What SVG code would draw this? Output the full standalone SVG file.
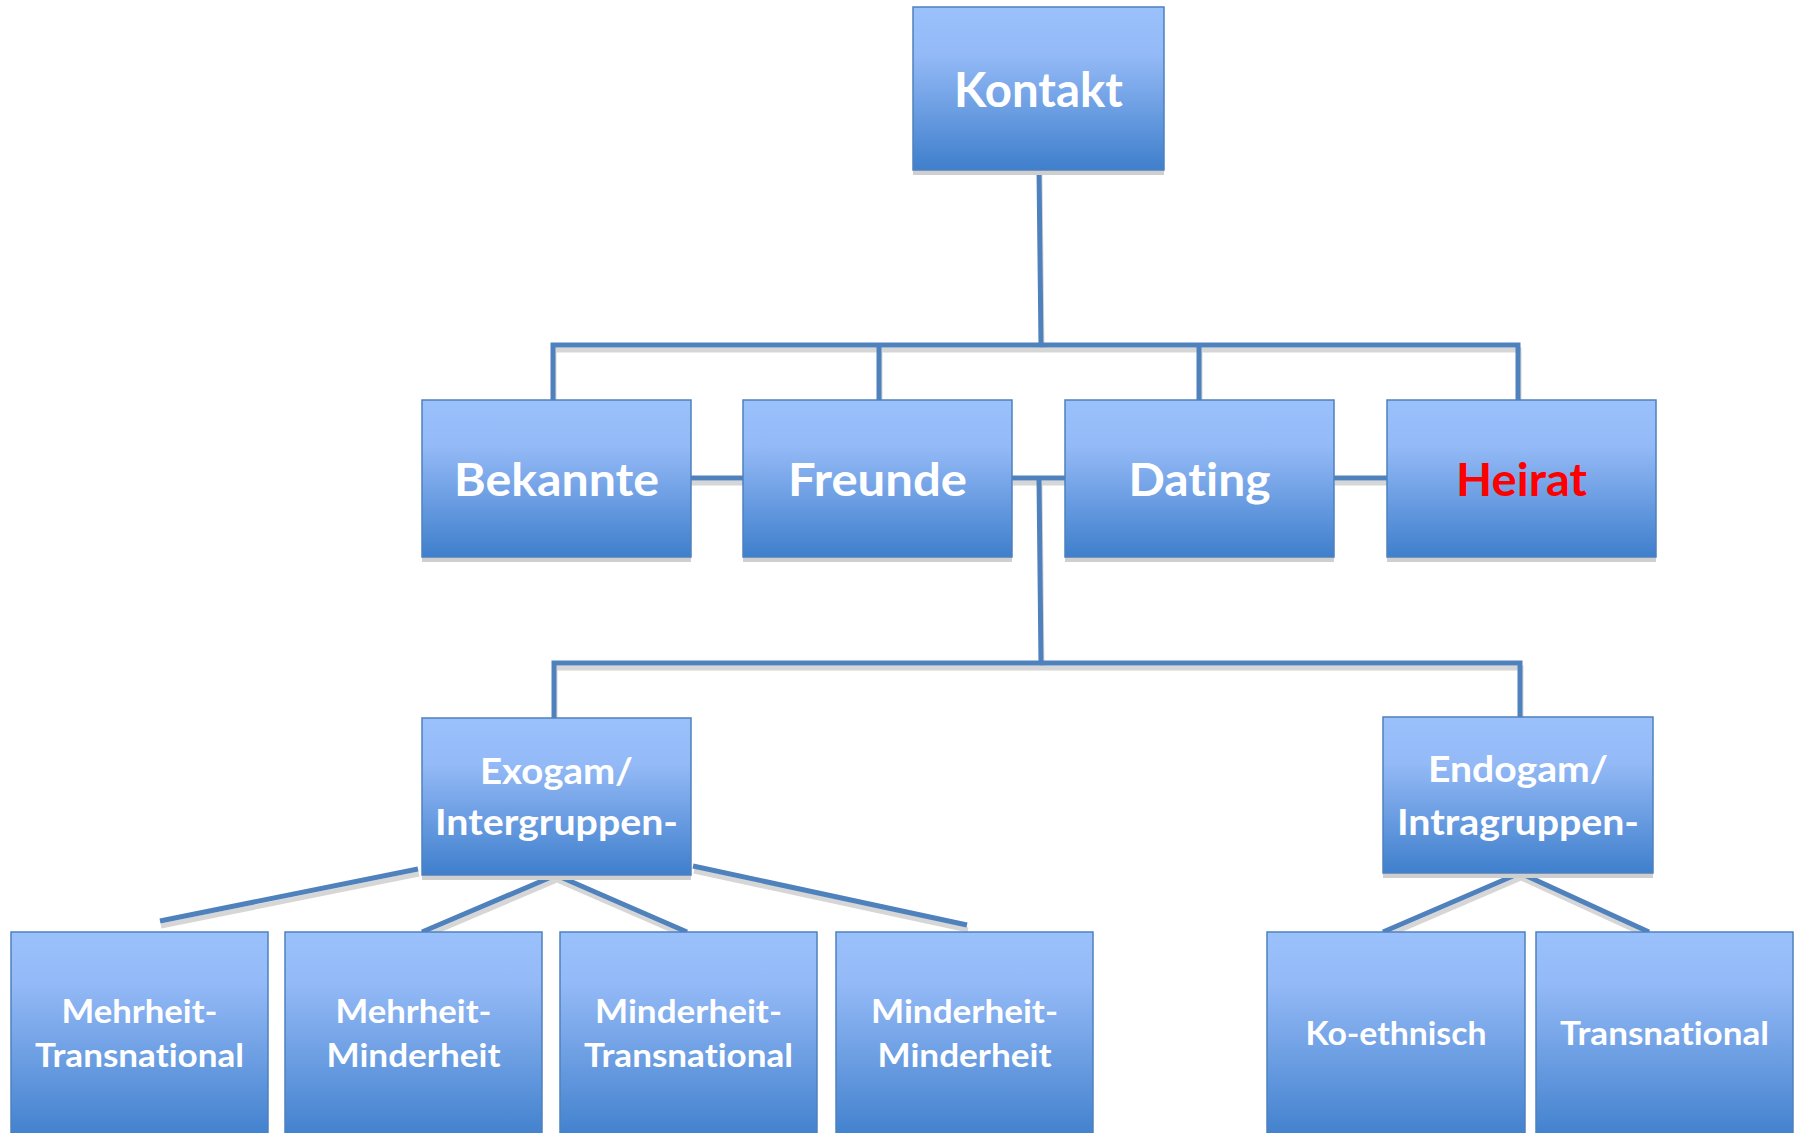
<svg xmlns="http://www.w3.org/2000/svg" width="1803" height="1133" viewBox="0 0 1803 1133">
<defs>
<linearGradient id="g" x1="0" y1="0" x2="0" y2="1">
<stop offset="0" stop-color="#9bc1fd"/>
<stop offset="0.3" stop-color="#93b9f6"/>
<stop offset="1" stop-color="#3f7fcc"/>
</linearGradient>
<linearGradient id="gb" x1="0" y1="0" x2="0" y2="1">
<stop offset="0" stop-color="#9bc1fd"/>
<stop offset="0.25" stop-color="#93b9f6"/>
<stop offset="1" stop-color="#3f7fcc"/>
</linearGradient>
</defs>
<style>
.box{fill:url(#g);stroke:#4f81bd;stroke-width:1.5}
.boxb{fill:url(#gb);stroke:#4f81bd;stroke-width:1.5}
.sh{fill:#cfcfcf}
.ln{fill:none;stroke:#4f81bd;stroke-width:5}
.lns{fill:none;stroke:#d6d6d6;stroke-width:5}
.t{font-family:Lato,"Liberation Sans",sans-serif;font-weight:bold;fill:#ffffff;text-anchor:middle;font-variant-ligatures:none;font-feature-settings:"liga" 0,"clig" 0}
.t1{font-size:47px}
.t2{font-size:46px}
.t3{font-size:37px}
.t4{font-size:32px}
</style>
<rect width="1803" height="1133" fill="#ffffff"/>
<g id="connectors">
<g transform="translate(1,5)">
<path class="lns" d="M1039,170 L1041,345 M553,400 L553,345 L1518,345 L1518,400 M879,345 L879,400 M1199,345 L1199,400 M690,478 L743,478 M1012,478 L1065,478 M1334,478 L1387,478 M1039,478 L1041,663 M554,718 L554,663 L1520,663 L1520,717 M160,921 L418,869 M556,875 L422,932 M556,875 L687,932 M693,866 L967,925 M1520,873 L1383,932 M1520,873 L1649,932"/>
</g>
<path class="ln" d="M1039,170 L1041,345 M553,400 L553,345 L1518,345 L1518,400 M879,345 L879,400 M1199,345 L1199,400 M690,478 L743,478 M1012,478 L1065,478 M1334,478 L1387,478 M1039,478 L1041,663 M554,718 L554,663 L1520,663 L1520,717 M160,921 L418,869 M556,875 L422,932 M556,875 L687,932 M693,866 L967,925 M1520,873 L1383,932 M1520,873 L1649,932"/>
</g>
<g id="kontakt"><rect class="sh" x="913" y="12" width="251" height="163"/><rect class="box" x="913" y="7" width="251" height="163"/><text class="t t1" x="1038.5" y="107" textLength="169" lengthAdjust="spacingAndGlyphs">Kontakt</text></g>
<g id="bekannte"><rect class="sh" x="422" y="405" width="269" height="157"/><rect class="box" x="422" y="400" width="269" height="157"/><text class="t t2" x="556.5" y="496" textLength="205" lengthAdjust="spacingAndGlyphs">Bekannte</text></g>
<g id="freunde"><rect class="sh" x="743" y="405" width="269" height="157"/><rect class="box" x="743" y="400" width="269" height="157"/><text class="t t2" x="877.5" y="496" textLength="179" lengthAdjust="spacingAndGlyphs">Freunde</text></g>
<g id="dating"><rect class="sh" x="1065" y="405" width="269" height="157"/><rect class="box" x="1065" y="400" width="269" height="157"/><text class="t t2" x="1199.5" y="496" textLength="142" lengthAdjust="spacingAndGlyphs">Dating</text></g>
<g id="heirat"><rect class="sh" x="1387" y="405" width="269" height="157"/><rect class="box" x="1387" y="400" width="269" height="157"/><text class="t t2" x="1521.5" y="496" textLength="131" lengthAdjust="spacingAndGlyphs" style="fill:#ff0000">Heirat</text></g>
<g id="exogam"><rect class="sh" x="422" y="723" width="269" height="157"/><rect class="box" x="422" y="718" width="269" height="157"/><text class="t t3" x="556.5" y="784" textLength="153" lengthAdjust="spacingAndGlyphs">Exogam/</text><text class="t t3" x="556.5" y="835" textLength="243" lengthAdjust="spacingAndGlyphs">Intergruppen-</text></g>
<g id="endogam"><rect class="sh" x="1383" y="722" width="270" height="156"/><rect class="box" x="1383" y="717" width="270" height="156"/><text class="t t3" x="1518" y="782" textLength="180" lengthAdjust="spacingAndGlyphs">Endogam/</text><text class="t t3" x="1518" y="835" textLength="242" lengthAdjust="spacingAndGlyphs">Intragruppen-</text></g>
<g id="mehrheit-transnational"><rect class="boxb" x="11" y="932" width="257" height="210"/><text class="t t4" x="139.5" y="1023" textLength="156" lengthAdjust="spacingAndGlyphs">Mehrheit-</text><text class="t t4" x="139.5" y="1067" textLength="209" lengthAdjust="spacingAndGlyphs">Transnational</text></g>
<g id="mehrheit-minderheit"><rect class="boxb" x="285" y="932" width="257" height="210"/><text class="t t4" x="413.5" y="1023" textLength="156" lengthAdjust="spacingAndGlyphs">Mehrheit-</text><text class="t t4" x="413.5" y="1067" textLength="174" lengthAdjust="spacingAndGlyphs">Minderheit</text></g>
<g id="minderheit-transnational"><rect class="boxb" x="560" y="932" width="257" height="210"/><text class="t t4" x="688.5" y="1023" textLength="187" lengthAdjust="spacingAndGlyphs">Minderheit-</text><text class="t t4" x="688.5" y="1067" textLength="209" lengthAdjust="spacingAndGlyphs">Transnational</text></g>
<g id="minderheit-minderheit"><rect class="boxb" x="836" y="932" width="257" height="210"/><text class="t t4" x="964.5" y="1023" textLength="187" lengthAdjust="spacingAndGlyphs">Minderheit-</text><text class="t t4" x="964.5" y="1067" textLength="174" lengthAdjust="spacingAndGlyphs">Minderheit</text></g>
<g id="ko-ethnisch"><rect class="boxb" x="1267" y="932" width="258" height="210"/><text class="t t4" x="1396" y="1045" textLength="181" lengthAdjust="spacingAndGlyphs">Ko-ethnisch</text></g>
<g id="transnational"><rect class="boxb" x="1536" y="932" width="257" height="210"/><text class="t t4" x="1664.5" y="1045" textLength="209" lengthAdjust="spacingAndGlyphs">Transnational</text></g>
</svg>
